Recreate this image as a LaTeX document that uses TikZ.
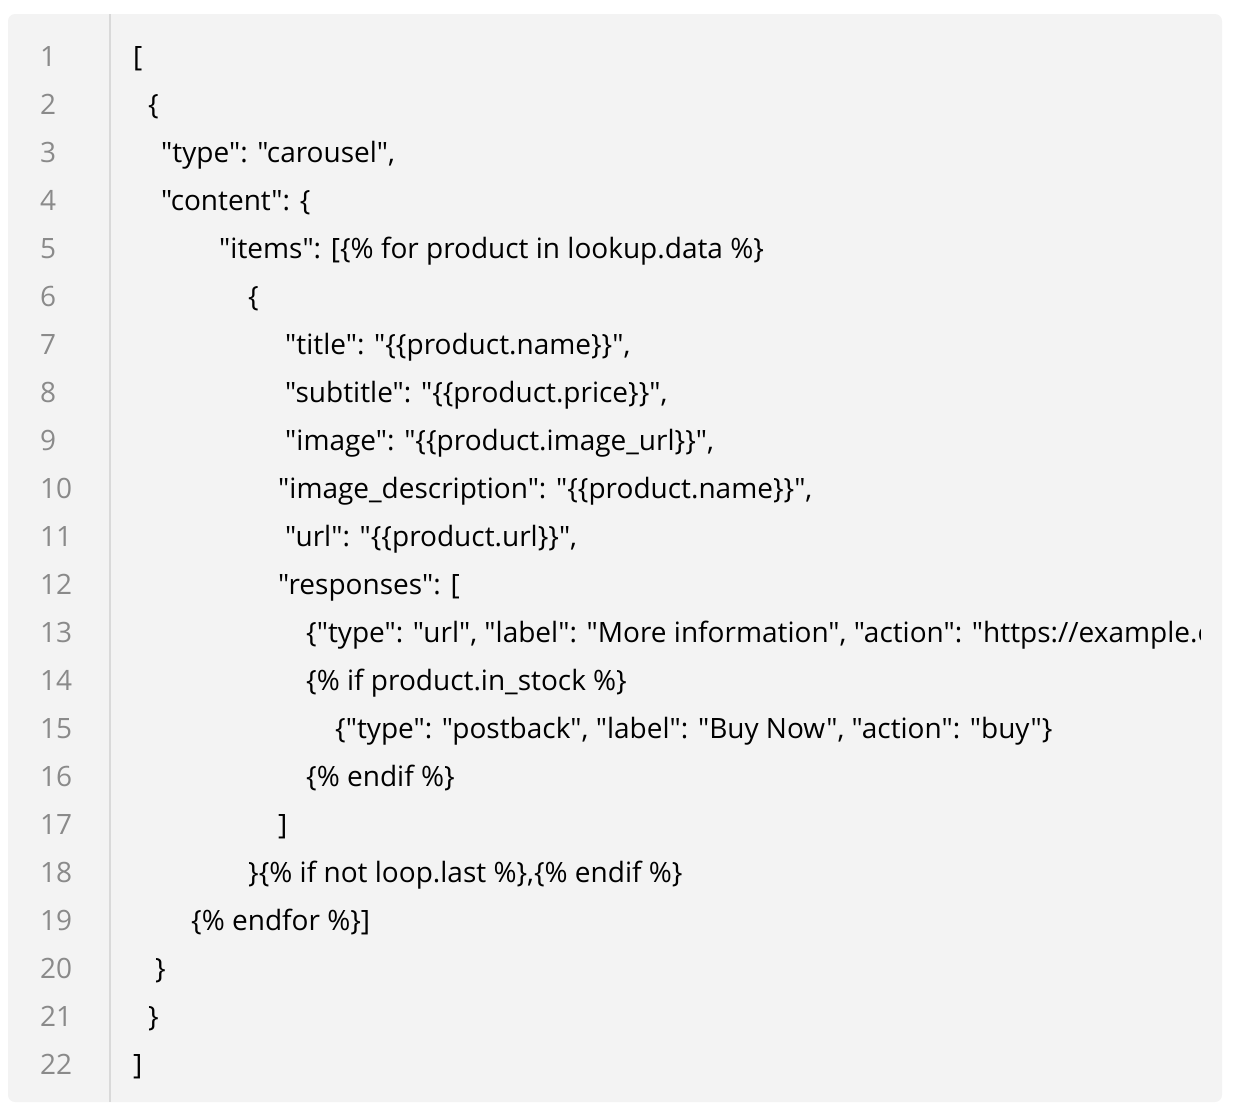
\documentclass[tikz,border=0pt]{standalone}
\usepackage{fontspec}
\setmainfont{Open Sans}[Ligatures=TeXOff]
\definecolor{codebg}{HTML}{F3F3F3}
\definecolor{rulegray}{HTML}{D9D9D9}
\definecolor{numgray}{HTML}{8A8A8A}
\tikzset{
    lineno/.style={anchor=base west, inner sep=0pt, text=numgray, font={\fontsize{28}{34}\selectfont}},
    codeline/.style={anchor=base west, inner sep=0pt, text=black, font={\fontsize{28}{34}\selectfont}}
}

\begin{document}
\begin{tikzpicture}[x=1pt, y=-1pt]
    \useasboundingbox (0,0) rectangle (1234,1112);
    \fill[codebg, rounded corners=7pt] (8,14) rectangle (1222,1102);
    \draw[rulegray, line width=2pt] (110,14) -- (110,1102);

    \foreach \n in {1,...,22}
        \node[lineno] (num\n) at (40,{66+48*(\n-1)}) {\n};

    \begin{scope}
        \clip (8,14) rectangle (1200,1102);
        \node[codeline] (l1) at (133,66) {[};
        \node[codeline] (l2) at (148,114) {\{};
        \node[codeline] (l3) at (161,162) {"type": "carousel",};
        \node[codeline] (l4) at (161,210) {"content": \{};
        \node[codeline] (l5) at (219,258) {"items": [\{\% for product in lookup.data \%\}};
        \node[codeline] (l6) at (248,306) {\{};
        \node[codeline] (l7) at (285,354) {"title": "\{\{product.name\}\}",};
        \node[codeline] (l8) at (285,402) {"subtitle": "\{\{product.price\}\}",};
        \node[codeline] (l9) at (285,450) {"image": "\{\{product.image\_url\}\}",};
        \node[codeline] (l10) at (278,498) {"image\_description": "\{\{product.name\}\}",};
        \node[codeline] (l11) at (285,546) {"url": "\{\{product.url\}\}",};
        \node[codeline] (l12) at (278,594) {"responses": [};
        \node[codeline] (l13) at (306,642) {\{"type": "url", "label": "More information", "action": "https://example.com"\}};
        \node[codeline] (l14) at (306,690) {\{\% if product.in\_stock \%\}};
        \node[codeline] (l15) at (335,738) {\{"type": "postback", "label": "Buy Now", "action": "buy"\}};
        \node[codeline] (l16) at (306,786) {\{\% endif \%\}};
        \node[codeline] (l17) at (278,834) {]};
        \node[codeline] (l18) at (248,882) {\}\{\% if not loop.last \%\},\{\% endif \%\}};
        \node[codeline] (l19) at (191,930) {\{\% endfor \%\}]};
        \node[codeline] (l20) at (155,978) {\}};
        \node[codeline] (l21) at (148,1026) {\}};
        \node[codeline] (l22) at (133,1074) {]};
    \end{scope}
\end{tikzpicture}
\end{document}
